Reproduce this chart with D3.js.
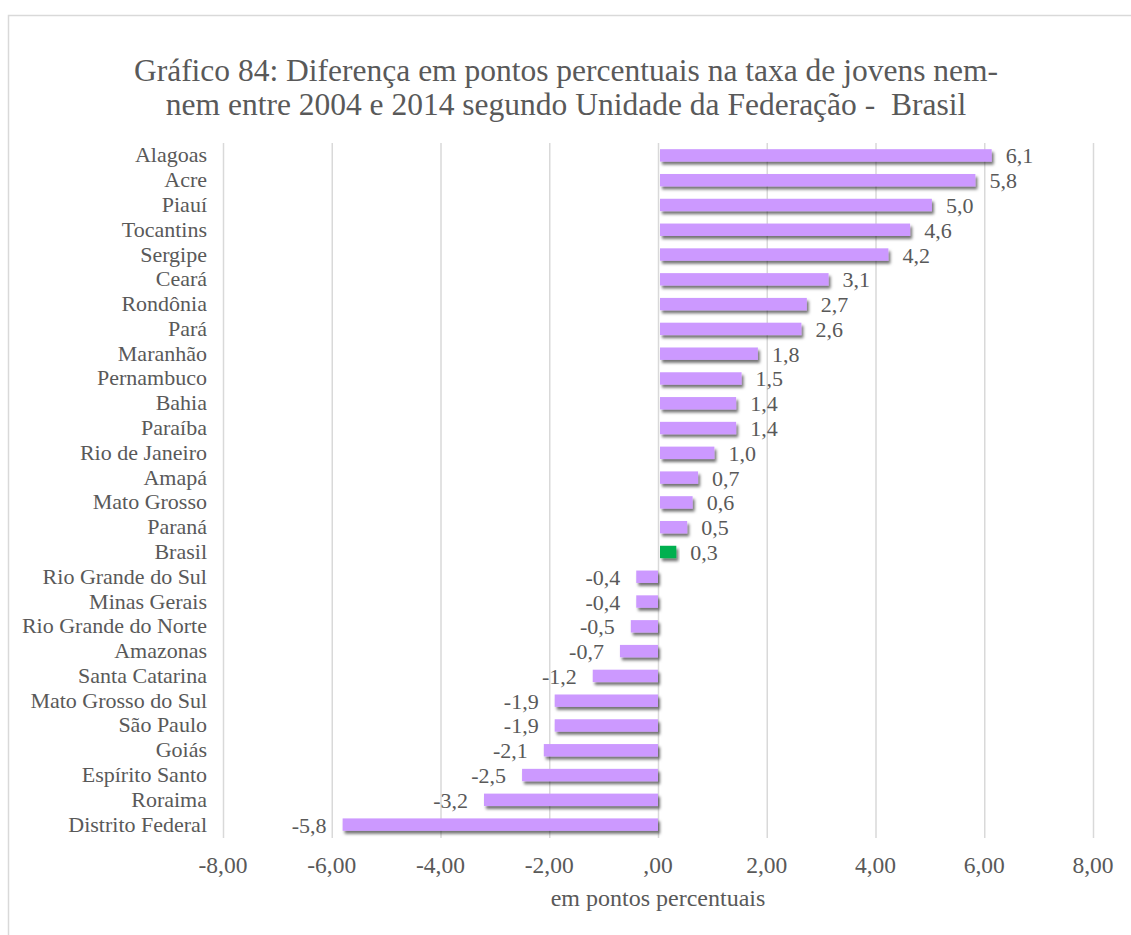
<!DOCTYPE html>
<html>
<head>
<meta charset="utf-8">
<script src="https://cdn.jsdelivr.net/npm/d3@7"></script>
<style>
  body { margin: 0; background: #fff; }
  text { font-family: "Liberation Serif", "Times New Roman", serif; fill: #595959; }
</style>
</head>
<body>
<div id="graf"></div>
<script>
// I. Datos
estados = ['Alagoas', 'Acre', 'Piauí', 'Tocantins', 'Sergipe', 'Ceará', 'Rondônia', 'Pará',
  'Maranhão', 'Pernambuco', 'Bahia', 'Paraíba', 'Rio de Janeiro', 'Amapá', 'Mato Grosso',
  'Paraná', 'Brasil', 'Rio Grande do Sul', 'Minas Gerais', 'Rio Grande do Norte', 'Amazonas',
  'Santa Catarina', 'Mato Grosso do Sul', 'São Paulo', 'Goiás', 'Espírito Santo', 'Roraima',
  'Distrito Federal']
diferencas = [6.1, 5.8, 5.0, 4.6, 4.2, 3.1, 2.7, 2.6, 1.8, 1.5, 1.4, 1.4, 1.0, 0.7, 0.6,
  0.5, 0.3, -0.4, -0.4, -0.5, -0.7, -1.2, -1.9, -1.9, -2.1, -2.5, -3.2, -5.8]
ticks = [-8, -6, -4, -2, 0, 2, 4, 6, 8]
tituloLineas = ['Gráfico 84: Diferença em pontos percentuais na taxa de jovens nem-',
  'nem entre 2004 e 2014 segundo Unidade da Federação -  Brasil']
eixoTitulo = 'em pontos percentuais'

data = estados.map((d, i) => ({ estado: d, valor: diferencas[i] }))

// II. Configuración
ancho_total = 1131
alto_total = 935

svg = d3.select('#graf').append('svg')
  .attr('width', ancho_total)
  .attr('height', alto_total)

defs = svg.append('defs')
filtro = defs.append('filter').attr('id', 'sombra')
  .attr('x', '-10%').attr('y', '-30%').attr('width', '130%').attr('height', '180%')
filtro.append('feDropShadow')
  .attr('dx', 2).attr('dy', 3).attr('stdDeviation', 1.6)
  .attr('flood-color', '#000').attr('flood-opacity', 0.55)

// borde
svg.append('rect')
  .attr('x', 8.5).attr('y', 15.5)
  .attr('width', 1140).attr('height', 940)
  .attr('fill', 'none').attr('stroke', '#d9d9d9').attr('stroke-width', 1.5)

x = d3.scaleLinear().domain([-8, 8]).range([223, 1093])
y = d3.scaleBand().domain(estados).range([143, 837]).paddingInner(0.5).paddingOuter(0.25)

// grid
svg.append('g').selectAll('line')
  .data(ticks)
  .enter().append('line')
    .attr('x1', d => x(d) + 0.5).attr('x2', d => x(d) + 0.5)
    .attr('y1', 143).attr('y2', 838)
    .attr('stroke', '#d9d9d9').attr('stroke-width', 1.5)

// título
svg.append('text')
  .attr('x', 566).attr('y', 81)
  .attr('text-anchor', 'middle')
  .style('font-size', '31.5px')
  .style('white-space', 'pre')
  .selectAll('tspan')
  .data(tituloLineas)
  .enter().append('tspan')
    .attr('x', 566)
    .attr('dy', (d, i) => i == 0 ? 0 : 34)
    .text(d => d)

// barras
svg.append('g').selectAll('rect')
  .data(data)
  .enter().append('rect')
    .attr('x', d => d.valor >= 0 ? x(0) + 2 : x(d.valor))
    .attr('y', d => y(d.estado))
    .attr('width', d => Math.abs(x(d.valor) - x(0)))
    .attr('height', y.bandwidth())
    .attr('fill', d => d.estado == 'Brasil' ? '#00b050' : '#cc99ff')
    .attr('filter', 'url(#sombra)')

// etiquetas de valor
fmt = v => d3.format('.1f')(v).replace('.', ',').replace('−', '-')
svg.append('g').selectAll('text')
  .data(data)
  .enter().append('text')
    .attr('x', d => d.valor >= 0 ? x(d.valor) + 16 : x(d.valor) - 16)
    .attr('y', d => y(d.estado) + y.bandwidth() / 2 + 8)
    .attr('text-anchor', d => d.valor >= 0 ? 'start' : 'end')
    .style('font-size', '22px')
    .text(d => fmt(d.valor))

// categorías
svg.append('g').selectAll('text')
  .data(data)
  .enter().append('text')
    .attr('x', 207)
    .attr('y', d => y(d.estado) + y.bandwidth() / 2 + 7)
    .attr('text-anchor', 'end')
    .style('font-size', '22px')
    .text(d => d.estado)

// eje x
svg.append('g').selectAll('text')
  .data(ticks)
  .enter().append('text')
    .attr('x', d => x(d))
    .attr('y', 873)
    .attr('text-anchor', 'middle')
    .style('font-size', '23.5px')
    .text(d => d == 0 ? ',00' : d3.format('.2f')(d).replace('.', ',').replace('−', '-'))

svg.append('text')
  .attr('x', 658).attr('y', 906)
  .attr('text-anchor', 'middle')
  .style('font-size', '24px')
  .text(eixoTitulo)
</script>
</body>
</html>
